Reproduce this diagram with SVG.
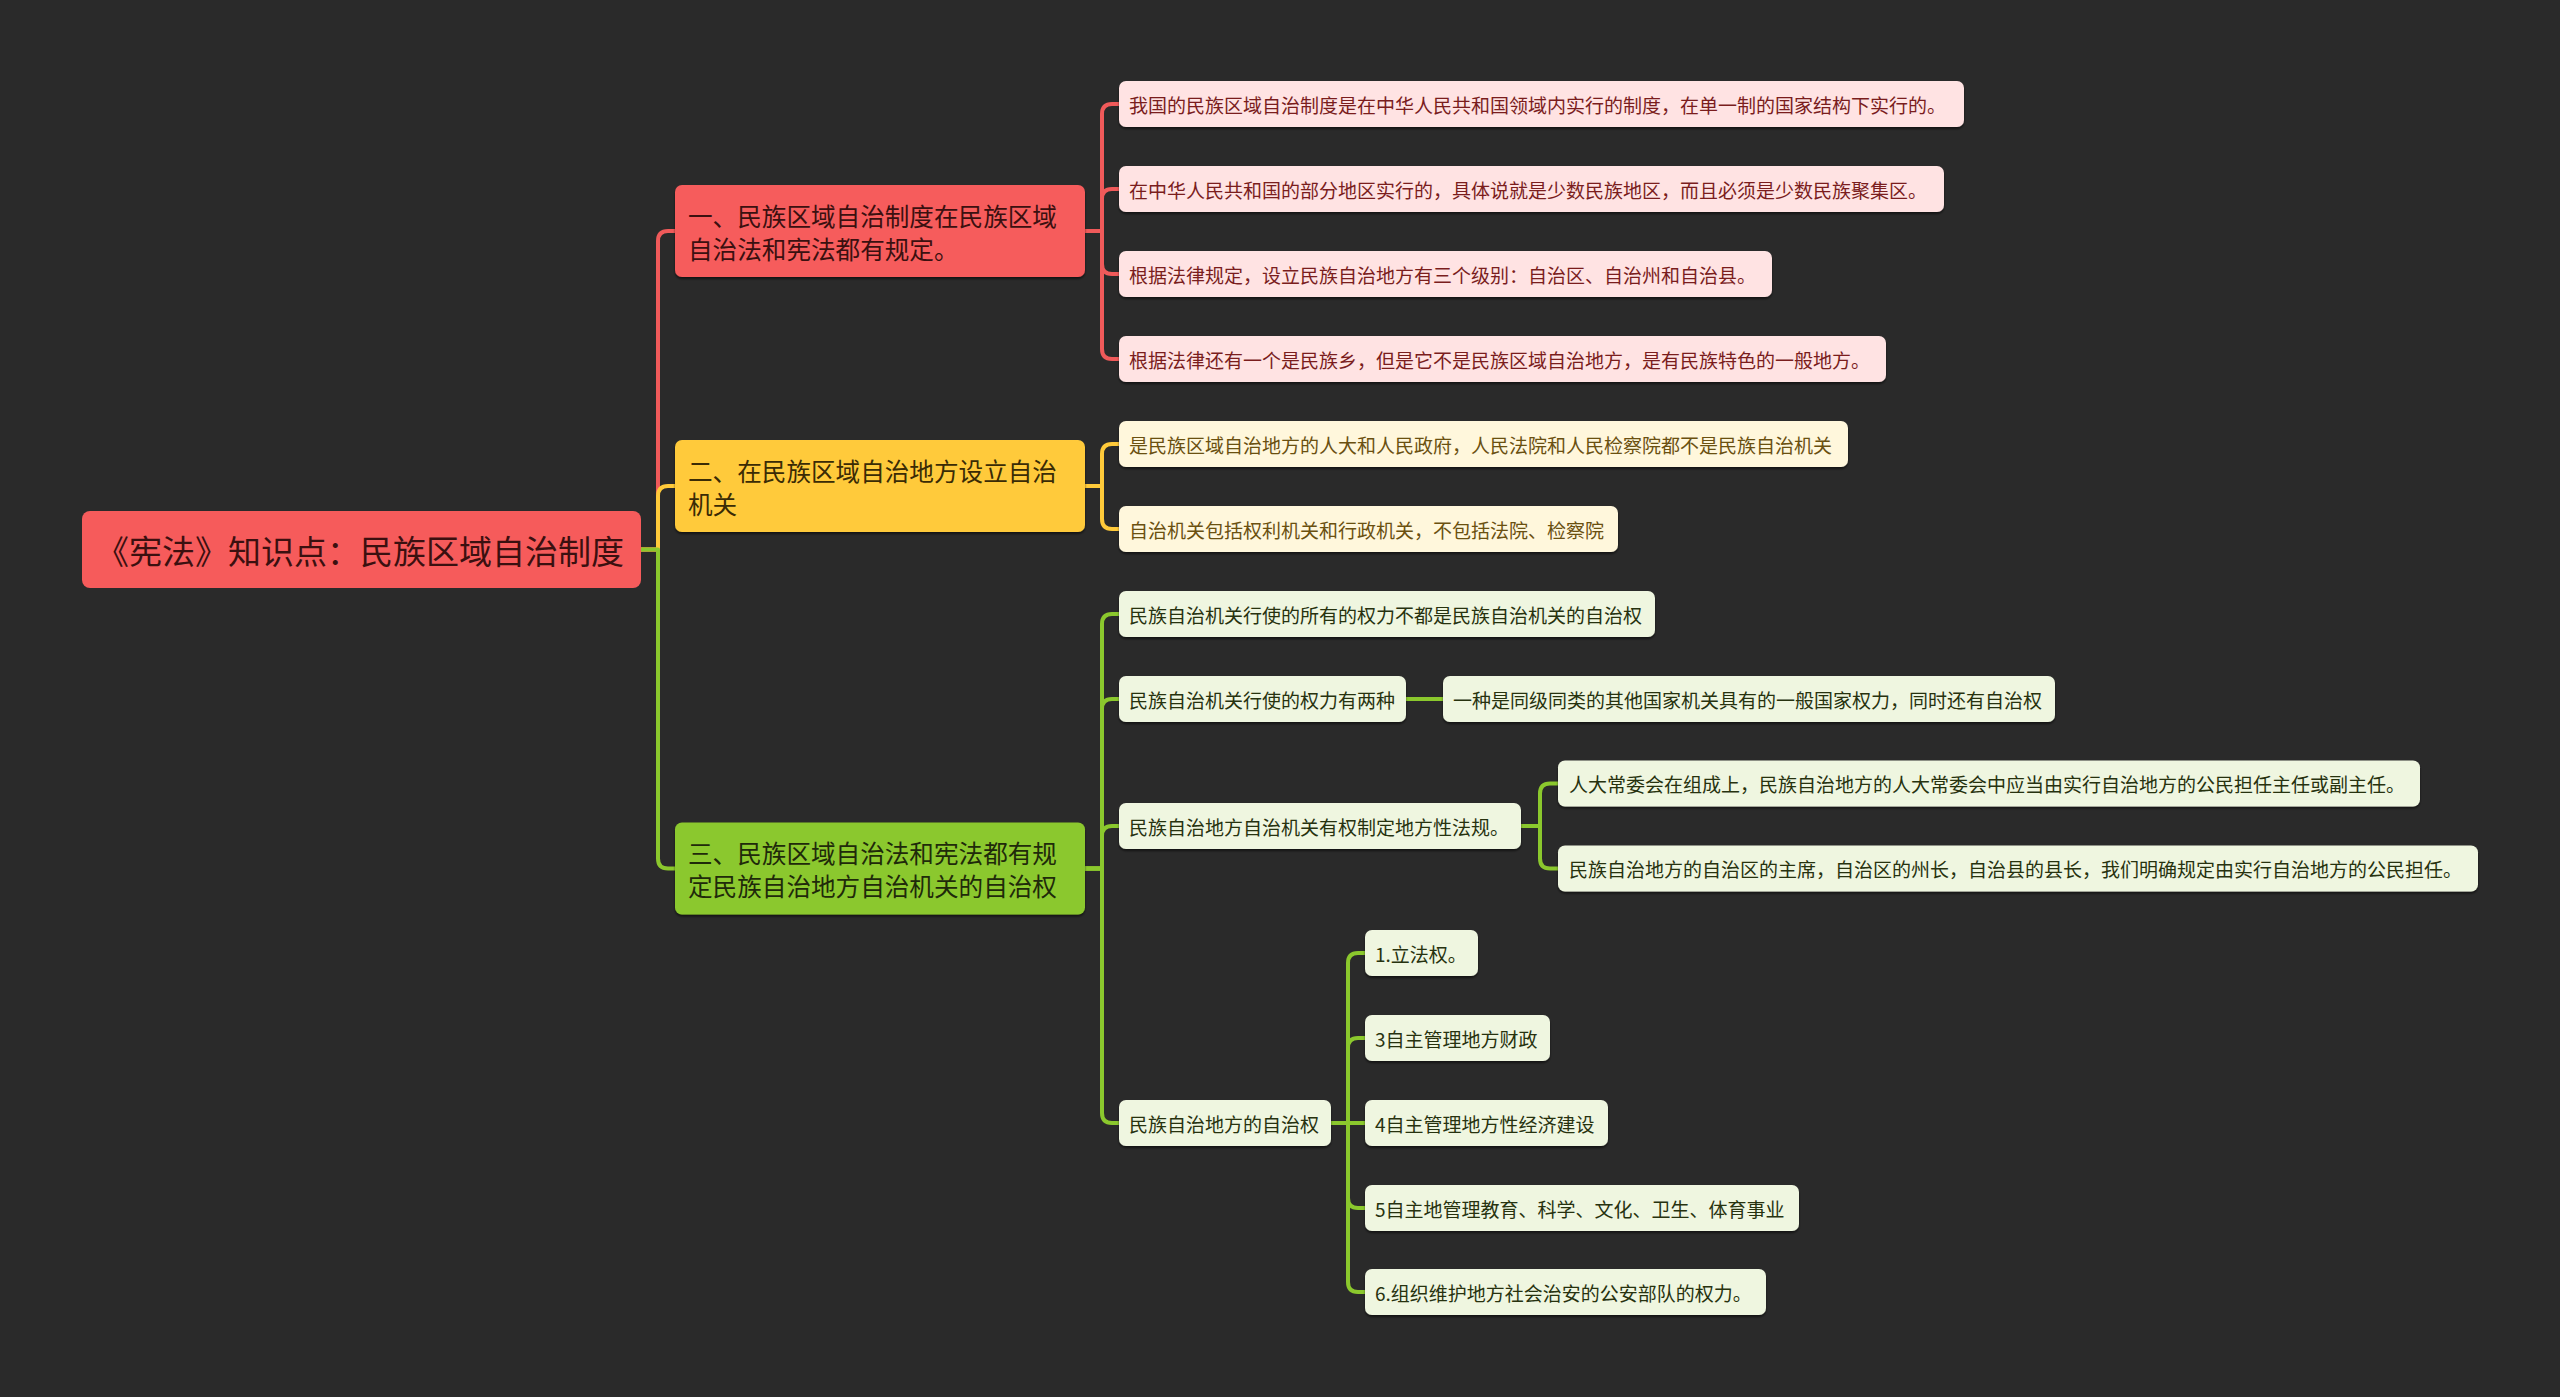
<svg xmlns="http://www.w3.org/2000/svg" width="2560" height="1397" viewBox="0 0 2560 1397">
<defs>
<filter id="sh" x="-5%" y="-20%" width="110%" height="150%">
<feDropShadow dx="0" dy="2" stdDeviation="1.2" flood-color="#000" flood-opacity="0.55"/>
</filter>
<style>
text{font-family:"Noto Sans CJK SC","Noto Sans",sans-serif;dominant-baseline:central}
.root rect{fill:#F65B5B}
.root text{font-size:33px;fill:#3B1010}
.b rect{filter:url(#sh)}
.b text{font-size:24.6px}
.b1 rect{fill:#F65B5B}.b1 text{fill:#3B1010}
.b2 rect{fill:#FFCA3A}.b2 text{fill:#3A2B05}
.b3 rect{fill:#8BC82D}.b3 text{fill:#1F2A0A}
.l rect{filter:url(#sh)}
.l text{font-size:19px}
.lr rect{fill:#FFE3E3}.lr text{fill:#7A1D1D}
.ly rect{fill:#FFF7DC}.ly text{fill:#6A5010}
.lg rect{fill:#EFF6E0}.lg text{fill:#27320F}
.c{fill:none;stroke-width:4;stroke-linecap:round;stroke-linejoin:round}
.cr{stroke:#F05A5A}.cy{stroke:#FFCA3A}.cg{stroke:#8BC82D}
</style>
</defs>
<rect x="0" y="0" width="2560" height="1397" fill="#2A2A2A"/>

<g id="connectors">
<path class="c cr" d="M641,549.5 H658 V241 Q658,231 668,231 H675"/>
<path class="c cy" d="M641,549.5 H658 V496 Q658,486 668,486 H675"/>
<path class="c cg" d="M641,549.5 H658 V858.5 Q658,868.5 668,868.5 H675"/>

<path class="c cr" d="M1085,231 H1102 V114 Q1102,104 1112,104 H1119"/>
<path class="c cr" d="M1085,231 H1102 V199 Q1102,189 1112,189 H1119"/>
<path class="c cr" d="M1085,231 H1102 V264 Q1102,274 1112,274 H1119"/>
<path class="c cr" d="M1085,231 H1102 V349 Q1102,359 1112,359 H1119"/>

<path class="c cy" d="M1085,486 H1102 V454 Q1102,444 1112,444 H1119"/>
<path class="c cy" d="M1085,486 H1102 V519 Q1102,529 1112,529 H1119"/>

<path class="c cg" d="M1085,868.5 H1102 V624 Q1102,614 1112,614 H1119"/>
<path class="c cg" d="M1085,868.5 H1102 V709 Q1102,699 1112,699 H1119"/>
<path class="c cg" d="M1085,868.5 H1102 V836 Q1102,826 1112,826 H1119"/>
<path class="c cg" d="M1085,868.5 H1102 V1113 Q1102,1123 1112,1123 H1119"/>

<path class="c cg" d="M1406,699 H1443"/>

<path class="c cg" d="M1521,826 H1540 V793.5 Q1540,783.5 1550,783.5 H1558"/>
<path class="c cg" d="M1521,826 H1540 V858.5 Q1540,868.5 1550,868.5 H1558"/>

<path class="c cg" d="M1331,1123 H1348 V963 Q1348,953 1358,953 H1365"/>
<path class="c cg" d="M1331,1123 H1348 V1048 Q1348,1038 1358,1038 H1365"/>
<path class="c cg" d="M1331,1123 H1365"/>
<path class="c cg" d="M1331,1123 H1348 V1198 Q1348,1208 1358,1208 H1365"/>
<path class="c cg" d="M1331,1123 H1348 V1282 Q1348,1292 1358,1292 H1365"/>
</g>

<g id="root" class="root">
<rect x="82" y="511" width="559" height="77" rx="8"/>
<text x="96" y="550">《宪法》知识点：民族区域自治制度</text>
</g>

<g id="branch1" class="b b1">
<rect x="675" y="185" width="410" height="92" rx="7"/>
<text x="688" y="215">一、民族区域自治制度在民族区域</text>
<text x="688" y="248">自治法和宪法都有规定。</text>
</g>
<g id="branch2" class="b b2">
<rect x="675" y="440" width="410" height="92" rx="7"/>
<text x="688" y="470">二、在民族区域自治地方设立自治</text>
<text x="688" y="503">机关</text>
</g>
<g id="branch3" class="b b3">
<rect x="675" y="822.5" width="410" height="92" rx="7"/>
<text x="688" y="852">三、民族区域自治法和宪法都有规</text>
<text x="688" y="885">定民族自治地方自治机关的自治权</text>
</g>

<g id="leaf1-1" class="l lr"><rect x="1119" y="81" width="845" height="46" rx="7"/><text x="1129" y="104">我国的民族区域自治制度是在中华人民共和国领域内实行的制度，在单一制的国家结构下实行的。</text></g>
<g id="leaf1-2" class="l lr"><rect x="1119" y="166" width="825" height="46" rx="7"/><text x="1129" y="189">在中华人民共和国的部分地区实行的，具体说就是少数民族地区，而且必须是少数民族聚集区。</text></g>
<g id="leaf1-3" class="l lr"><rect x="1119" y="251" width="653" height="46" rx="7"/><text x="1129" y="274">根据法律规定，设立民族自治地方有三个级别：自治区、自治州和自治县。</text></g>
<g id="leaf1-4" class="l lr"><rect x="1119" y="336" width="767" height="46" rx="7"/><text x="1129" y="359">根据法律还有一个是民族乡，但是它不是民族区域自治地方，是有民族特色的一般地方。</text></g>

<g id="leaf2-1" class="l ly"><rect x="1119" y="421" width="729" height="46" rx="7"/><text x="1129" y="444">是民族区域自治地方的人大和人民政府，人民法院和人民检察院都不是民族自治机关</text></g>
<g id="leaf2-2" class="l ly"><rect x="1119" y="506" width="499" height="46" rx="7"/><text x="1129" y="529">自治机关包括权利机关和行政机关，不包括法院、检察院</text></g>

<g id="leaf3-1" class="l lg"><rect x="1119" y="591" width="536" height="46" rx="7"/><text x="1129" y="614">民族自治机关行使的所有的权力不都是民族自治机关的自治权</text></g>
<g id="leaf3-2" class="l lg"><rect x="1119" y="676" width="287" height="46" rx="7"/><text x="1129" y="699">民族自治机关行使的权力有两种</text></g>
<g id="leaf3-2-1" class="l lg"><rect x="1443" y="676" width="612" height="46" rx="7"/><text x="1453" y="699">一种是同级同类的其他国家机关具有的一般国家权力，同时还有自治权</text></g>
<g id="leaf3-3" class="l lg"><rect x="1119" y="803" width="402" height="46" rx="7"/><text x="1129" y="826">民族自治地方自治机关有权制定地方性法规。</text></g>
<g id="leaf3-3-1" class="l lg"><rect x="1558" y="760.5" width="862" height="46" rx="7"/><text x="1569" y="783.5">人大常委会在组成上，民族自治地方的人大常委会中应当由实行自治地方的公民担任主任或副主任。</text></g>
<g id="leaf3-3-2" class="l lg"><rect x="1558" y="845.5" width="920" height="46" rx="7"/><text x="1569" y="868.5">民族自治地方的自治区的主席，自治区的州长，自治县的县长，我们明确规定由实行自治地方的公民担任。</text></g>
<g id="leaf3-4" class="l lg"><rect x="1119" y="1100" width="212" height="46" rx="7"/><text x="1129" y="1123">民族自治地方的自治权</text></g>
<g id="leaf3-4-1" class="l lg"><rect x="1365" y="930" width="113" height="46" rx="7"/><text x="1375" y="953">1.立法权。</text></g>
<g id="leaf3-4-2" class="l lg"><rect x="1365" y="1015" width="185" height="46" rx="7"/><text x="1375" y="1038">3自主管理地方财政</text></g>
<g id="leaf3-4-3" class="l lg"><rect x="1365" y="1100" width="243" height="46" rx="7"/><text x="1375" y="1123">4自主管理地方性经济建设</text></g>
<g id="leaf3-4-4" class="l lg"><rect x="1365" y="1185" width="434" height="46" rx="7"/><text x="1375" y="1208">5自主地管理教育、科学、文化、卫生、体育事业</text></g>
<g id="leaf3-4-5" class="l lg"><rect x="1365" y="1269" width="401" height="46" rx="7"/><text x="1375" y="1292">6.组织维护地方社会治安的公安部队的权力。</text></g>
</svg>
